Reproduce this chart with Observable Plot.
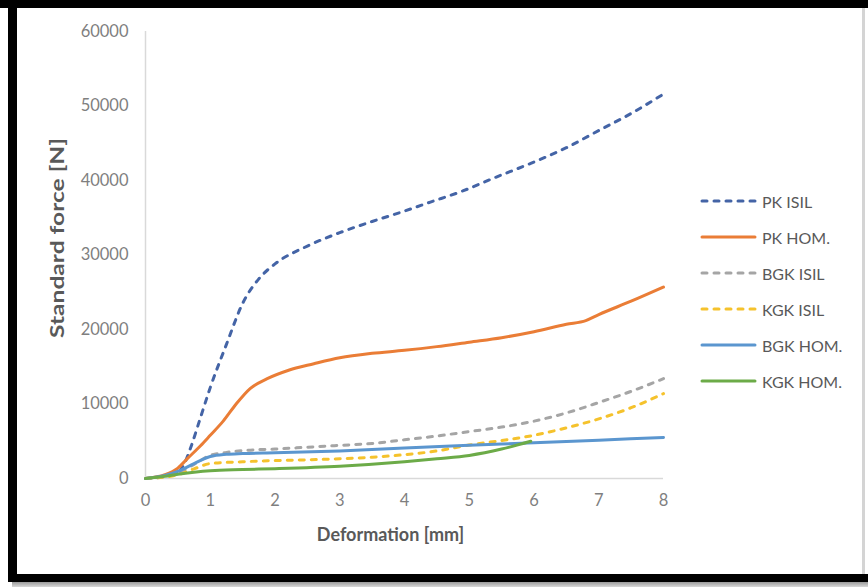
<!DOCTYPE html>
<html>
<head>
<meta charset="utf-8">
<script src="https://cdn.jsdelivr.net/npm/d3@7"></script>
<script src="https://cdn.jsdelivr.net/npm/@observablehq/plot@0.6"></script>
<style>
  html, body { margin: 0; padding: 0; background: #ffffff; }
  #wrap { position: relative; width: 868px; height: 587px; overflow: hidden; background: #ffffff; font-family: Lato, "Open Sans", sans-serif; }
  .band { position: absolute; background: #000000; }
  #chart { position: absolute; left: 0; top: 0; }
  #legend { position: absolute; left: 699px; top: 190px; }
  .lg { position: absolute; left: 0; height: 22px; width: 160px; display: flex; align-items: center; white-space: nowrap; }
  .lg svg { display: block; margin-right: 5px; }
  .lg span { font-size: 16px; color: #595959; }
</style>
</head>
<body>
<div id="wrap">
  <div id="chart"></div>
  <div id="legend"></div>
  <div class="band" style="left:0;top:0;width:868px;height:8px;"></div>
  <div class="band" style="left:8px;top:0;width:9px;height:582px;"></div>
  <div class="band" style="left:8px;top:574px;width:860px;height:8px;"></div>
  <div style="position:absolute;left:12px;top:582px;width:856px;height:5px;background:linear-gradient(#9a9a9a,#d8d8d8);"></div>
  <div style="position:absolute;left:862px;top:8px;width:3px;height:566px;background:#d4d4d4;"></div>
</div>
<script>
// ---- data ----
const seriesNames = ["PK ISIL", "PK HOM.", "BGK ISIL", "KGK ISIL", "BGK HOM.", "KGK HOM."];
const seriesColors = ["#4464a6", "#ea7d36", "#a5a5a5", "#f5c22c", "#5b96cf", "#6cab48"];
const seriesDashed = [true, false, true, true, false, false];

const pkIsilX = [0, 0.3, 0.5, 0.6, 0.7, 0.85, 1.0, 1.25, 1.5, 1.75, 2.0, 2.5, 3.0, 3.5, 4.0, 4.4, 4.9, 5.4, 5.95, 6.5, 7.0, 7.5, 8.0];
const pkIsilY = [0, 300, 800, 2000, 4200, 8200, 12200, 18000, 23500, 26800, 28800, 31200, 33000, 34500, 35900, 37100, 38600, 40400, 42300, 44400, 46700, 49000, 51600];

const pkHomX = [0, 0.3, 0.5, 0.65, 0.85, 1.0, 1.2, 1.4, 1.62, 1.88, 2.2, 2.6, 3.0, 3.5, 4.0, 4.5, 5.0, 5.5, 6.0, 6.5, 6.8, 7.0, 7.5, 8.0];
const pkHomY = [0, 500, 1400, 2700, 4400, 5800, 7700, 10000, 12100, 13400, 14500, 15400, 16200, 16800, 17200, 17700, 18300, 18900, 19700, 20700, 21200, 22000, 23800, 25700];

const bgkIsilX = [0, 0.3, 0.5, 0.75, 1.0, 1.25, 1.5, 2.0, 2.5, 3.0, 3.5, 4.0, 4.5, 5.0, 5.5, 6.0, 6.5, 7.0, 7.5, 8.0];
const bgkIsilY = [0, 250, 700, 1900, 3100, 3500, 3750, 3950, 4200, 4450, 4700, 5200, 5700, 6300, 6900, 7700, 8800, 10200, 11700, 13400];

const kgkIsilX = [0, 0.3, 0.5, 0.75, 1.0, 1.5, 2.0, 2.5, 3.0, 3.5, 4.0, 4.5, 5.0, 5.5, 6.0, 6.5, 7.0, 7.5, 8.0];
const kgkIsilY = [0, 200, 500, 1300, 2000, 2250, 2400, 2500, 2650, 2850, 3200, 3700, 4500, 5100, 5800, 6800, 8000, 9500, 11400];

const bgkHomX = [0, 0.3, 0.5, 0.75, 1.0, 1.25, 1.5, 2.0, 3.0, 4.0, 5.0, 6.0, 7.0, 8.0];
const bgkHomY = [0, 400, 950, 2000, 2950, 3250, 3350, 3450, 3700, 4100, 4450, 4800, 5150, 5500];

const kgkHomX = [0, 0.3, 0.5, 0.75, 1.0, 1.5, 2.0, 3.0, 4.0, 4.5, 5.0, 5.5, 5.95];
const kgkHomY = [0, 300, 580, 850, 1050, 1200, 1320, 1650, 2250, 2650, 3100, 3950, 5000];

const xTicks = [0, 1, 2, 3, 4, 5, 6, 7, 8];
const yTicks = [0, 10000, 20000, 30000, 40000, 50000, 60000];
const xTitle = "Deformation [mm]";
const yTitle = "Standard force [N]";

// ---- build ----
const seriesX = [pkIsilX, pkHomX, bgkIsilX, kgkIsilX, bgkHomX, kgkHomX];
const seriesY = [pkIsilY, pkHomY, bgkIsilY, kgkIsilY, bgkHomY, kgkHomY];
const dash = "5,7";

const lineMarks = seriesNames.map((name, i) => {
  const rows = seriesX[i].map((x, j) => ({x, y: seriesY[i][j]}));
  return Plot.line(rows, {
    x: "x", y: "y",
    stroke: seriesColors[i],
    strokeWidth: 3,
    strokeLinecap: "round",
    strokeDasharray: seriesDashed[i] ? dash : null,
    curve: "monotone-x"
  });
});

const chart = Plot.plot({
  width: 868,
  height: 587,
  marginLeft: 145,
  marginRight: 205,
  marginTop: 31,
  marginBottom: 109,
  style: {fontFamily: "Lato, 'Open Sans', sans-serif", background: "transparent", overflow: "visible"},
  x: {domain: [0, 8]},
  y: {domain: [0, 60000]},
  marks: [
    Plot.ruleY([0], {stroke: "#d9d9d9", strokeWidth: 1.5}),
    Plot.ruleX([0], {stroke: "#d9d9d9", strokeWidth: 1.5}),
    Plot.axisX(xTicks, {tickSize: 0, tickPadding: 16, fontSize: 16.5, fill: "#7f7f7f", label: null}),
    Plot.axisY(yTicks, {tickSize: 0, tickPadding: 17, fontSize: 16.5, fill: "#7f7f7f", label: null, tickFormat: d => String(d)}),
    Plot.text([xTitle], {text: d => d, frameAnchor: "bottom", lineAnchor: "middle", textAnchor: "middle", dy: 57, dx: -14, fontSize: 18, fontWeight: "bold", fill: "#595959"}),
    Plot.text([yTitle], {text: d => d, frameAnchor: "left", lineAnchor: "middle", textAnchor: "middle", rotate: -90, dx: -87, dy: -17, fontSize: 18, fontWeight: "bold", fill: "#595959"}),
    ...lineMarks
  ]
});
document.getElementById("chart").appendChild(chart);

// the reference's vertical title is stretched along its baseline
chart.querySelectorAll("text").forEach(t => {
  if (t.textContent === yTitle) {
    t.setAttribute("textLength", "200");
    t.setAttribute("lengthAdjust", "spacingAndGlyphs");
  }
});

// legend
const legend = document.getElementById("legend");
seriesNames.forEach((name, i) => {
  const row = document.createElement("div");
  row.className = "lg";
  row.style.top = (i * 36) + "px";
  const ns = "http://www.w3.org/2000/svg";
  const svg = document.createElementNS(ns, "svg");
  svg.setAttribute("width", "58");
  svg.setAttribute("height", "8");
  const ln = document.createElementNS(ns, "line");
  ln.setAttribute("x1", "3"); ln.setAttribute("x2", "56");
  ln.setAttribute("y1", "4"); ln.setAttribute("y2", "4");
  ln.setAttribute("stroke", seriesColors[i]);
  ln.setAttribute("stroke-width", "3");
  ln.setAttribute("stroke-linecap", "round");
  if (seriesDashed[i]) ln.setAttribute("stroke-dasharray", dash);
  svg.appendChild(ln);
  const sp = document.createElement("span");
  sp.textContent = name;
  row.appendChild(svg);
  row.appendChild(sp);
  legend.appendChild(row);
});
</script>
</body>
</html>
